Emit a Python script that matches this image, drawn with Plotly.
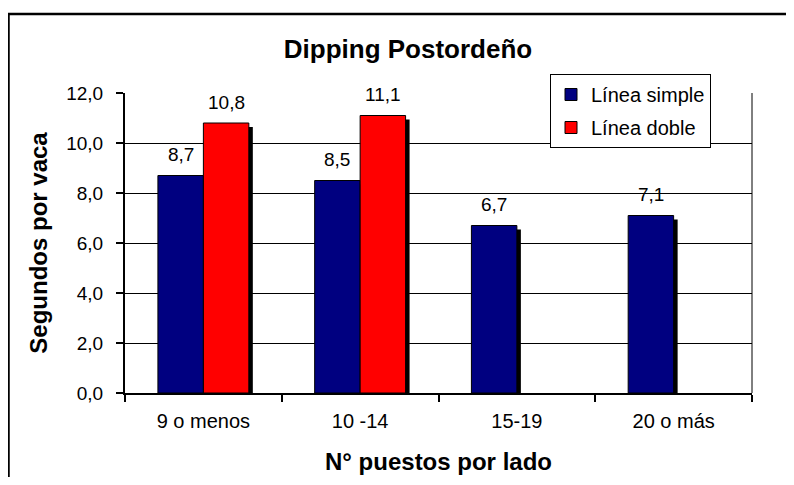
import plotly.graph_objects as go

categories = ["9 o menos", "10 -14", "15-19", "20 o más"]
linea_simple = [8.7, 8.5, 6.7, 7.1]
linea_doble = [10.8, 11.1, None, None]
y_ticks = [0, 2, 4, 6, 8, 10, 12]

# page body has an 8px margin: figure px = screen px - 8
W, H = 778, 469
L, T = 117, 85
plot_w, plot_h = 627, 300
R = W - L - plot_w
B = H - T - plot_h

FONT = "Liberation Sans, Arial, sans-serif"
BW = 0.29               # bar width (category units)
DX = 4 / (plot_w / 4)   # shadow x offset (4 px)
DY = 4 / (plot_h / 12)  # shadow y offset (4 px)


def px_x(p):
    return (p - L) / plot_w


def px_y(p):
    return (T + plot_h - p) / plot_h


fig = go.Figure()

fig.add_trace(go.Bar(x=categories, y=linea_simple, base=-DY, width=BW,
                     offset=-BW + DX, marker=dict(color="black", line=dict(width=0)),
                     showlegend=False, hoverinfo="skip"))
fig.add_trace(go.Bar(x=categories, y=linea_simple, width=BW, offset=-BW,
                     name="Línea simple", legendgroup="a",
                     marker=dict(color="#000080", line=dict(color="black", width=1))))
fig.add_trace(go.Bar(x=categories, y=linea_doble, base=-DY, width=BW,
                     offset=DX, marker=dict(color="black", line=dict(width=0)),
                     showlegend=False, hoverinfo="skip"))
fig.add_trace(go.Bar(x=categories, y=linea_doble, width=BW, offset=0,
                     name="Línea doble", legendgroup="b",
                     marker=dict(color="#FF0000", line=dict(color="black", width=1))))

LABEL_FONT = dict(family=FONT, size=19, color="black")
annotations = []
for i, v in enumerate(linea_simple):
    annotations.append(dict(x=i - BW / 2, y=v, xref="x", yref="y",
                            text=f"{v:.1f}".replace(".", ","), showarrow=False,
                            yanchor="middle", yshift=21, font=LABEL_FONT))
for i, v in enumerate(linea_doble):
    if v is None:
        continue
    annotations.append(dict(x=i + BW / 2, y=v, xref="x", yref="y",
                            text=f"{v:.1f}".replace(".", ","), showarrow=False,
                            yanchor="middle", yshift=21, font=LABEL_FONT))

shapes = [
    # right edge of plot area
    dict(type="line", xref="paper", yref="paper", x0=1, x1=1, y0=0, y1=1,
         line=dict(color="black", width=1)),
    # outer chart border: only top and left edges fall inside the picture
    dict(type="line", xref="paper", yref="paper",
         x0=px_x(0), x1=px_x(W), y0=px_y(6), y1=px_y(6),
         line=dict(color="black", width=2.5), layer="above"),
    dict(type="line", xref="paper", yref="paper",
         x0=px_x(0.5), x1=px_x(0.5), y0=px_y(6), y1=px_y(H),
         line=dict(color="black", width=2.5), layer="above"),
]

fig.update_layout(
    width=W, height=H,
    margin=dict(l=L, r=R, t=T, b=B, pad=0, autoexpand=False),
    paper_bgcolor="white", plot_bgcolor="white",
    barmode="overlay",
    separators=",.",
    font=dict(family=FONT, size=19, color="black"),
    title=dict(text="<b>Dipping Postordeño</b>", x=400 / W, xref="container", xanchor="center",
               y=1 - 41 / H, yref="container", yanchor="middle",
               font=dict(family=FONT, size=26, color="black")),
    legend=dict(x=px_x(622.5), y=px_y(66), xanchor="center", yanchor="top",
                bgcolor="white", bordercolor="black", borderwidth=1,
                font=dict(family=FONT, size=20, color="black"),
                traceorder="grouped", tracegroupgap=4),
    annotations=annotations,
    shapes=shapes,
)

fig.update_xaxes(
    type="category", categoryorder="array", categoryarray=categories,
    tickson="boundaries", ticks="outside", ticklen=7, tickwidth=1.5, tickcolor="black",
    showline=True, linecolor="black", linewidth=2, showgrid=False, automargin=False,
    tickfont=dict(family=FONT, size=20), ticklabelstandoff=9,
    title=dict(text="<b>N° puestos por lado</b>", font=dict(family=FONT, size=24), standoff=22),
)
fig.update_yaxes(
    range=[0, 12], tickvals=y_ticks, tickformat=".1f",
    ticks="outside", ticklen=7, tickwidth=1.5, tickcolor="black",
    showline=True, linecolor="black", linewidth=2, automargin=False,
    showgrid=True, gridcolor="black", gridwidth=1, zeroline=False,
    tickfont=dict(family=FONT, size=19), ticklabelstandoff=9,
    title=dict(text="<b>Segundos por vaca</b>", font=dict(family=FONT, size=24), standoff=12),
)

fig.write_html("out.html", config={"displayModeBar": False})
